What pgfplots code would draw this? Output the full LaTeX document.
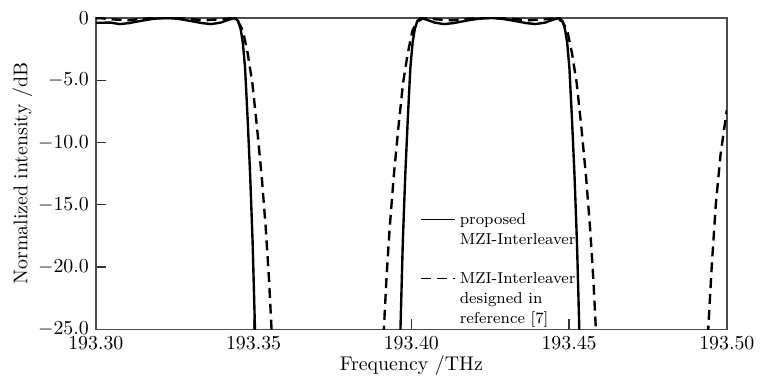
\documentclass[border=0pt]{standalone}
\usepackage{pgfplots}
\pgfplotsset{compat=1.18}
\begin{document}
\begin{tikzpicture}
\begin{axis}[
  scale only axis,
  width=318pt, height=157pt,
  xmin=193.30, xmax=193.50,
  ymin=-25, ymax=0,
  xtick={193.30,193.35,193.40,193.45,193.50},
  xticklabels={193.30,193.35,193.40,193.45,193.50},
  ytick={-25,-20,-15,-10,-5,0},
  yticklabels={$-25.0$,$-20.0$,$-15.0$,$-10.0$,$-5.0$,$0$},
  xtick pos=bottom, ytick pos=left,
  tick align=inside,
  major tick length=5pt,
  axis line style={black!70, line width=0.7pt},
  tick style={black!80, line width=0.6pt},
  xlabel={Frequency /THz},
  ylabel={Normalized intensity /dB},
  xlabel style={yshift=4pt},
  ylabel style={yshift=-4pt},
  clip=true,
  legend style={draw=none, fill=none, at={(0.505,0.405)}, anchor=north west,
    cells={align=left, anchor=west}, row sep=17.5pt, font=\footnotesize},
  legend image post style={line width=0.6pt},
]
\addplot[black, line width=1.2pt] coordinates {
(193.3000,-0.40) (193.3046,-0.38) (193.3076,-0.50) (193.3106,-0.42) (193.3141,-0.25)
(193.3181,-0.08) (193.3221,0) (193.3261,-0.08) (193.3301,-0.25) (193.3336,-0.42)
(193.3366,-0.50) (193.3396,-0.38) (193.3421,-0.15) (193.3441,-0.02) (193.3451,-0.25)
(193.3459,-0.9) (193.3466,-2.0) (193.3473,-4.0) (193.3481,-8.0) (193.3489,-12.5)
(193.3497,-18.0) (193.3505,-25.5)
};
\addlegendentry{\begin{tabular}[t]{@{}l@{}}proposed\\[0.5pt]MZI-Interleaver\end{tabular}}
\addplot[black, line width=1.2pt, dash pattern=on 5pt off 3pt] coordinates {
(193.3000,-0.05) (193.3011,-0.02) (193.3051,-0.12) (193.3101,-0.20) (193.3161,-0.05)
(193.3221,-0.02) (193.3281,-0.05) (193.3341,-0.20) (193.3391,-0.12) (193.3431,-0.02)
(193.3451,-0.3) (193.3466,-1.0) (193.3481,-2.8) (193.3496,-5.2) (193.3511,-8.8)
(193.3526,-12.8) (193.3539,-17.0) (193.3549,-21.0) (193.3558,-25.5)
};
\addlegendentry{\begin{tabular}[t]{@{}l@{}}MZI-Interleaver\\[0.5pt]designed in\\[0.5pt]reference [7]\end{tabular}}
\addplot[black, line width=1.2pt, forget plot] coordinates {
(193.3965,-25.5) (193.3973,-18) (193.3981,-12.5) (193.3989,-8) (193.3997,-4)
(193.4004,-2) (193.4011,-0.9) (193.4019,-0.25) (193.4029,-0.02) (193.4049,-0.15)
(193.4074,-0.38) (193.4104,-0.50) (193.4134,-0.42) (193.4169,-0.25) (193.4209,-0.08)
(193.4249,0) (193.4289,-0.08) (193.4329,-0.25) (193.4364,-0.42) (193.4394,-0.50)
(193.4424,-0.38) (193.4449,-0.15) (193.4469,-0.02) (193.4479,-0.25) (193.4487,-0.9)
(193.4494,-2.0) (193.4501,-4.0) (193.4509,-8) (193.4517,-12.5) (193.4525,-18)
(193.4533,-25.5)
};
\addplot[black, line width=1.2pt, dash pattern=on 5pt off 3pt, forget plot] coordinates {
(193.3912,-25.5) (193.3921,-21) (193.3931,-17) (193.3944,-12.8) (193.3959,-8.8)
(193.3974,-5.2) (193.3989,-2.8) (193.4004,-1.0) (193.4019,-0.3) (193.4039,-0.02)
(193.4079,-0.12) (193.4129,-0.20) (193.4189,-0.05) (193.4249,-0.02) (193.4309,-0.05)
(193.4369,-0.20) (193.4419,-0.12) (193.4459,-0.02) (193.4479,-0.3) (193.4494,-1.0)
(193.4509,-2.8) (193.4524,-5.2) (193.4539,-8.8) (193.4554,-12.8) (193.4567,-17.0)
(193.4577,-21.0) (193.4586,-25.5)
};
\addplot[black, line width=1.2pt, dash pattern=on 5pt off 3pt, forget plot] coordinates {
(193.4940,-25.5) (193.4952,-20) (193.4965,-15) (193.4980,-11) (193.5000,-7.4)
};
\end{axis}
\path (current axis.north) ++(0,9pt);
\path (current bounding box.west) ++(-3pt,0);
\end{tikzpicture}
\end{document}
